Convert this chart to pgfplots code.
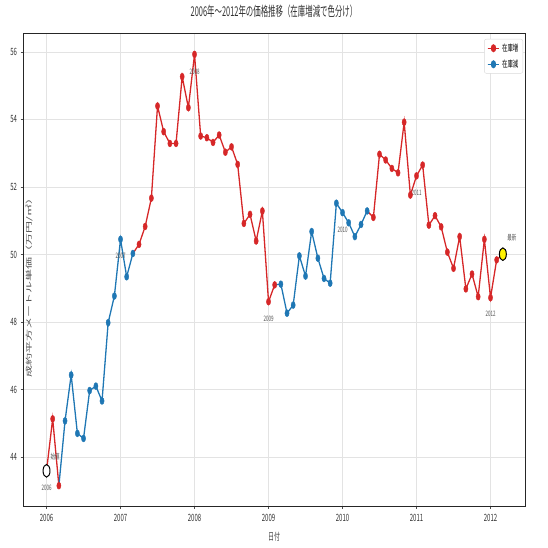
\documentclass[border=0pt]{standalone}
\usepackage{graphicx}
\usepackage{fontspec}
\setmainfont{Noto Sans CJK JP}[FakeStretch=0.6]
\newfontfamily\titlefont{Noto Sans CJK JP}[FakeStretch=0.55]
\newfontfamily\ylfont{Noto Sans CJK JP}
\usepackage{pgfplots}
\pgfplotsset{compat=1.18}
\definecolor{tabred}{HTML}{D62728}
\definecolor{tabblue}{HTML}{1F77B4}
\definecolor{gridc}{HTML}{E3E3E3}
\definecolor{annc}{HTML}{555555}
\begin{document}
\begin{tikzpicture}
\useasboundingbox (-23pt,-42pt) rectangle (525pt,506pt);
\begin{axis}[
  at={(0,0)}, anchor=south west, scale only axis,
  width=502pt, height=473pt,
  xmin=2005.682, xmax=2012.466, ymin=42.548, ymax=56.563,
  xtick={2006,2007,2008,2009,2010,2011,2012},
  xticklabels={2006,2007,2008,2009,2010,2011,2012},
  ytick={44,46,48,50,52,54,56},
  yticklabels={44,46,48,50,52,54,56},
  /pgf/number format/assume math mode=true,
  tick align=outside, major tick length=2.5pt,
  xtick pos=bottom, ytick pos=left,
  tick style={black!70, line width=0.6pt},
  ticklabel style={font=\fontsize{10}{11}\selectfont, text=black!80},
  xticklabel style={yshift=-2pt},
  grid=major, major grid style={gridc, line width=0.7pt},
  axis line style={black!85, line width=0.9pt},
  title={\titlefont 2006年～2012年の価格推移（在庫増減で色分け）},
  title style={at={(axis description cs:0.5,1)}, anchor=center, yshift=16pt, font=\fontsize{13.5}{14}\selectfont, text=black!80},
  xlabel={日付},
  xlabel style={at={(axis description cs:0.5,0)}, anchor=center, yshift=-31pt, font=\fontsize{10}{11}\selectfont, text=black!75},
  ylabel={\scalebox{1}[0.55]{\ylfont 成約平方メートル単価（万円/㎡）}},
  ylabel style={at={(axis description cs:0,0.5)}, anchor=center, xshift=-15.5pt, yshift=-6pt, font=\fontsize{12}{13}\selectfont, text=black!70},
  legend style={at={(axis description cs:1,1)}, anchor=north east, xshift=-2pt, yshift=-6pt,
    draw=black!15, rounded corners=2pt, fill=white, font=\fontsize{9}{10}\selectfont,
    row sep=3pt, inner sep=2.5pt},
  legend cell align=left,
  legend image code/.code={
    \draw[#1] (0cm,0cm) -- (0.42cm,0cm);
    \draw[#1, mark repeat=2, mark phase=2] plot coordinates {(0cm,0cm) (0.21cm,0cm) (0.42cm,0cm)};
  },
  clip=false,
]
\addlegendimage{color=tabred, line width=1.3pt, mark=*, mark size=3.3pt, mark options={xscale=0.6, solid}}
\addlegendentry{在庫増}
\addlegendimage{color=tabblue, line width=1.3pt, mark=*, mark size=3.3pt, mark options={xscale=0.6, solid}}
\addlegendentry{在庫減}

% ---- line segments (colour of the arriving point) ----
\addplot[tabred, line width=1.3pt, no marks, forget plot] coordinates {
(2006.000,43.59) (2006.083,45.13) (2006.167,43.15)};
\addplot[tabblue, line width=1.3pt, no marks, forget plot] coordinates {
(2006.167,43.15) (2006.250,45.07) (2006.333,46.43) (2006.417,44.70) (2006.500,44.55)
(2006.583,45.97) (2006.667,46.10) (2006.750,45.66) (2006.833,47.98) (2006.917,48.77)
(2007.000,50.45) (2007.083,49.34) (2007.167,50.03)};
\addplot[tabred, line width=1.3pt, no marks, forget plot] coordinates {
(2007.167,50.03) (2007.250,50.30) (2007.333,50.83) (2007.417,51.67) (2007.500,54.40)
(2007.583,53.64) (2007.667,53.29) (2007.750,53.29) (2007.833,55.27) (2007.917,54.35)
(2008.000,55.93) (2008.083,53.51) (2008.167,53.46) (2008.250,53.32) (2008.333,53.54)
(2008.417,53.03) (2008.500,53.19) (2008.583,52.67) (2008.667,50.92) (2008.750,51.19)
(2008.833,50.40) (2008.917,51.29) (2009.000,48.60) (2009.083,49.10)};
\addplot[tabblue, line width=1.3pt, no marks, forget plot] coordinates {
(2009.083,49.10) (2009.167,49.12) (2009.250,48.26) (2009.333,48.50) (2009.417,49.96)
(2009.500,49.36) (2009.583,50.68) (2009.667,49.89) (2009.750,49.29) (2009.833,49.15)
(2009.917,51.52) (2010.000,51.24) (2010.083,50.94) (2010.167,50.53) (2010.250,50.89)
(2010.333,51.29)};
\addplot[tabred, line width=1.3pt, no marks, forget plot] coordinates {
(2010.333,51.29) (2010.417,51.10) (2010.500,52.97) (2010.583,52.80) (2010.667,52.55)
(2010.750,52.42) (2010.833,53.92) (2010.917,51.76) (2011.000,52.33) (2011.083,52.65)
(2011.167,50.87) (2011.250,51.15) (2011.333,50.82) (2011.417,50.07) (2011.500,49.59)
(2011.583,50.53) (2011.667,48.98) (2011.750,49.42) (2011.833,48.75) (2011.917,50.45)
(2012.000,48.72) (2012.083,49.84) (2012.167,50.01)};

% ---- markers ----
\addplot[only marks, mark=*, mark size=3.5pt, color=tabred, mark options={xscale=0.6}, forget plot] coordinates {
(2006.083,45.13) (2006.167,43.15)
(2007.250,50.30) (2007.333,50.83) (2007.417,51.67) (2007.500,54.40)
(2007.583,53.64) (2007.667,53.29) (2007.750,53.29) (2007.833,55.27) (2007.917,54.35)
(2008.000,55.93) (2008.083,53.51) (2008.167,53.46) (2008.250,53.32) (2008.333,53.54)
(2008.417,53.03) (2008.500,53.19) (2008.583,52.67) (2008.667,50.92) (2008.750,51.19)
(2008.833,50.40) (2008.917,51.29) (2009.000,48.60) (2009.083,49.10)
(2010.417,51.10) (2010.500,52.97) (2010.583,52.80) (2010.667,52.55)
(2010.750,52.42) (2010.833,53.92) (2010.917,51.76) (2011.000,52.33) (2011.083,52.65)
(2011.167,50.87) (2011.250,51.15) (2011.333,50.82) (2011.417,50.07) (2011.500,49.59)
(2011.583,50.53) (2011.667,48.98) (2011.750,49.42) (2011.833,48.75) (2011.917,50.45)
(2012.000,48.72) (2012.083,49.84)};
\addplot[only marks, mark=*, mark size=3.5pt, color=tabblue, mark options={xscale=0.6}, forget plot] coordinates {
(2006.250,45.07) (2006.333,46.43) (2006.417,44.70) (2006.500,44.55)
(2006.583,45.97) (2006.667,46.10) (2006.750,45.66) (2006.833,47.98) (2006.917,48.77)
(2007.000,50.45) (2007.083,49.34) (2007.167,50.03)
(2009.167,49.12) (2009.250,48.26) (2009.333,48.50) (2009.417,49.96)
(2009.500,49.36) (2009.583,50.68) (2009.667,49.89) (2009.750,49.29) (2009.833,49.15)
(2009.917,51.52) (2010.000,51.24) (2010.083,50.94) (2010.167,50.53) (2010.250,50.89)
(2010.333,51.29)};
% first and latest
\addplot[only marks, mark=*, mark size=6.3pt, mark options={xscale=0.55, draw=black, fill=white, line width=1pt}, forget plot] coordinates {(2006.000,43.59)};
\addplot[only marks, mark=*, mark size=6.3pt, mark options={xscale=0.55, draw=black, fill=yellow, line width=1pt}, forget plot] coordinates {(2012.167,50.01)};

% ---- annotations ----
\begin{scope}[every node/.style={font=\fontsize{7.5}{8}\selectfont, text=annc, inner sep=0pt}]
\node at (axis cs:2006.000,43.59) [yshift=-17pt] {2006};
\node at (axis cs:2007.000,50.45) [yshift=-17pt] {2007};
\node at (axis cs:2008.000,55.93) [yshift=-17pt] {2008};
\node at (axis cs:2009.000,48.60) [yshift=-17pt] {2009};
\node at (axis cs:2010.000,51.24) [yshift=-17pt] {2010};
\node at (axis cs:2011.000,52.33) [yshift=-17pt] {2011};
\node at (axis cs:2012.000,48.72) [yshift=-16pt] {2012};
\node at (axis cs:2006.000,43.59) [xshift=8.5pt, yshift=14.5pt] {始値};
\node at (axis cs:2012.167,50.01) [xshift=9pt, yshift=16pt] {最新};
\end{scope}
\end{axis}
\end{tikzpicture}
\end{document}
